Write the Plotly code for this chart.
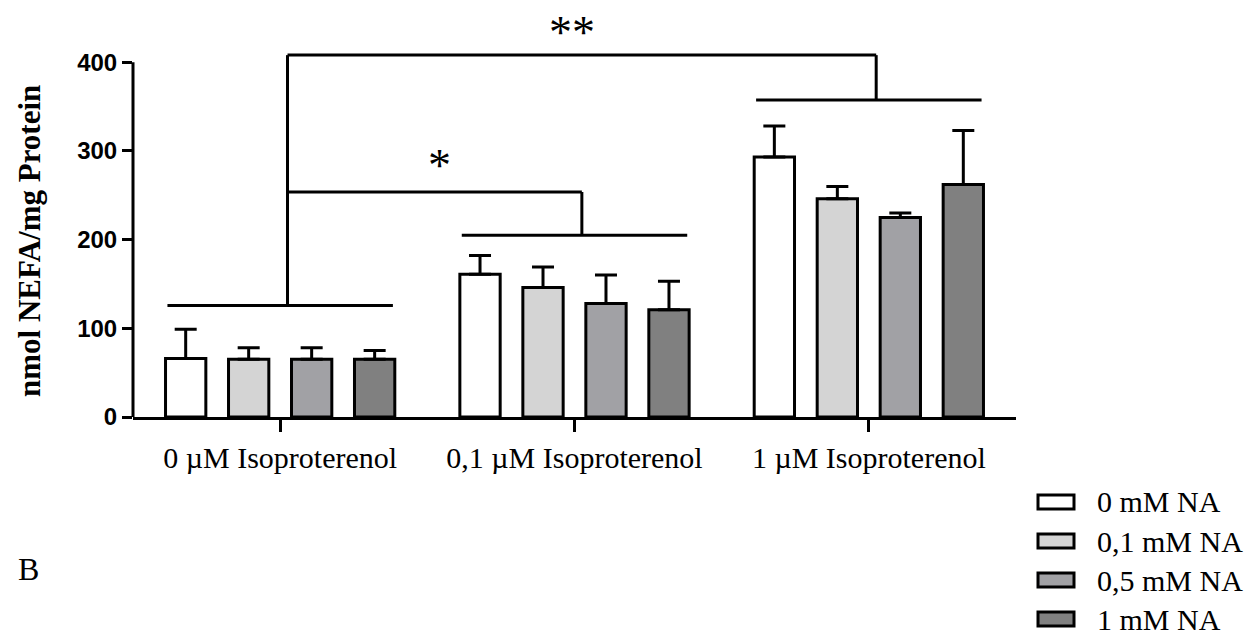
import plotly.graph_objects as go

# ---------------- data ----------------
categories = ["0 µM Isoproterenol", "0,1 µM Isoproterenol", "1 µM Isoproterenol"]
series_names = ["0 mM NA", "0,1 mM NA", "0,5 mM NA", "1 mM NA"]
means_0na = [66, 161, 293]
means_01na = [65, 146, 246]
means_05na = [65, 128, 225]
means_1na = [65, 121, 262]
upper_0na = [99, 182, 328]
upper_01na = [78, 169, 260]
upper_05na = [78, 160, 230]
upper_1na = [75, 153, 323]
y_ticks = [0, 100, 200, 300, 400]

# significance brackets (group baseline heights, connector heights)
group_line_y = [125.6, 205.0, 357.5]
star1_y = 253.7
star2_y = 408.0

fills = ["#ffffff", "#d4d4d4", "#a1a1a5", "#808080"]
means = [means_0na, means_01na, means_05na, means_1na]
uppers = [upper_0na, upper_01na, upper_05na, upper_1na]

# ---------------- figure geometry ----------------
W, H = 1251, 635
L, R, T, B = 133, 235, 9, 218
PW = W - L - R
PH = H - T - B
YMAX = 460

def px2paper_x(px):
    return (px - L) / PW

def px2paper_y(py):
    return (H - B - py) / PH

xs = list(range(len(categories)))
serif = "Liberation Serif, Times New Roman, serif"

fig = go.Figure()
for name, m, u, c in zip(series_names, means, uppers, fills):
    fig.add_trace(go.Bar(
        x=xs, y=m, name=name,
        marker=dict(color=c, line=dict(color="black", width=3)),
        error_y=dict(type="data", symmetric=False,
                     array=[ui - mi for ui, mi in zip(u, m)],
                     arrayminus=[0] * len(m),
                     color="black", thickness=3, width=11),
        showlegend=False,
    ))

shapes = []
lw = dict(color="black", width=3)
half = 0.383
off = 0.025
# group baselines
for i, gy in enumerate(group_line_y):
    shapes.append(dict(type="line", xref="x", yref="y", x0=i - half, x1=i + half,
                       y0=gy, y1=gy, line=lw))
# connectors from group 0
shapes.append(dict(type="line", xref="x", yref="y", x0=0 + off, x1=0 + off,
                   y0=group_line_y[0], y1=star2_y, line=lw))
shapes.append(dict(type="line", xref="x", yref="y", x0=0 + off, x1=1 + off,
                   y0=star1_y, y1=star1_y, line=lw))
shapes.append(dict(type="line", xref="x", yref="y", x0=1 + off, x1=1 + off,
                   y0=star1_y, y1=group_line_y[1], line=lw))
shapes.append(dict(type="line", xref="x", yref="y", x0=0 + off, x1=2 + off,
                   y0=star2_y, y1=star2_y, line=lw))
shapes.append(dict(type="line", xref="x", yref="y", x0=2 + off, x1=2 + off,
                   y0=star2_y, y1=group_line_y[2], line=lw))
# y axis line from 0 to 400 only
shapes.append(dict(type="line", xref="paper", yref="paper", x0=0, x1=0,
                   y0=0, y1=y_ticks[-1] / YMAX, line=dict(color="black", width=3)))

annotations = [
    dict(text="**", xref="x", yref="y", x=0.99, y=433, showarrow=False,
         font=dict(family=serif, size=46, color="black"), xanchor="center", yanchor="middle"),
    dict(text="*", xref="x", yref="y", x=0.54, y=284, showarrow=False,
         font=dict(family=serif, size=46, color="black"), xanchor="center", yanchor="middle"),
    dict(text="nmol NEFA/mg Protein", xref="paper", yref="paper",
         x=px2paper_x(29), y=px2paper_y(241), textangle=-90, showarrow=False,
         font=dict(family=serif, size=31, color="black", weight="bold"),
         xanchor="center", yanchor="middle"),
    dict(text="B", xref="paper", yref="paper", x=px2paper_x(28), y=px2paper_y(569),
         showarrow=False, font=dict(family=serif, size=32, color="black"),
         xanchor="center", yanchor="middle"),
]

# custom legend
leg_y = [502, 541, 580, 619]
for name, c, ly in zip(series_names, fills, leg_y):
    shapes.append(dict(type="rect", xref="paper", yref="paper",
                       x0=px2paper_x(1038), x1=px2paper_x(1074),
                       y0=px2paper_y(ly + 7), y1=px2paper_y(ly - 7),
                       fillcolor=c, line=dict(color="black", width=3)))
    annotations.append(dict(text=name, xref="paper", yref="paper",
                            x=px2paper_x(1095), y=px2paper_y(ly), showarrow=False,
                            xanchor="left", yanchor="middle",
                            font=dict(family=serif, size=30, color="black")))

fig.update_layout(
    width=W, height=H,
    margin=dict(l=L, r=R, t=T, b=B, pad=0),
    plot_bgcolor="white", paper_bgcolor="white",
    barmode="group", bargap=0.144, bargroupgap=0.36,
    shapes=shapes, annotations=annotations,
    xaxis=dict(range=[-0.5, 2.5], tickmode="array", tickvals=xs, ticktext=categories,
               showline=True, linecolor="black", linewidth=3,
               ticks="outside", ticklen=12, tickwidth=3, tickcolor="black",
               showgrid=False, zeroline=False,
               tickfont=dict(family=serif, size=30, color="black")),
    yaxis=dict(range=[0, YMAX], tickmode="array", tickvals=y_ticks,
               showline=False, ticks="outside", ticklen=10, tickwidth=3, tickcolor="black",
               showgrid=False, zeroline=False,
               tickfont=dict(family="Liberation Sans, Arial, sans-serif", size=24,
                             color="black", weight="bold")),
)

fig.write_html("out.html")
